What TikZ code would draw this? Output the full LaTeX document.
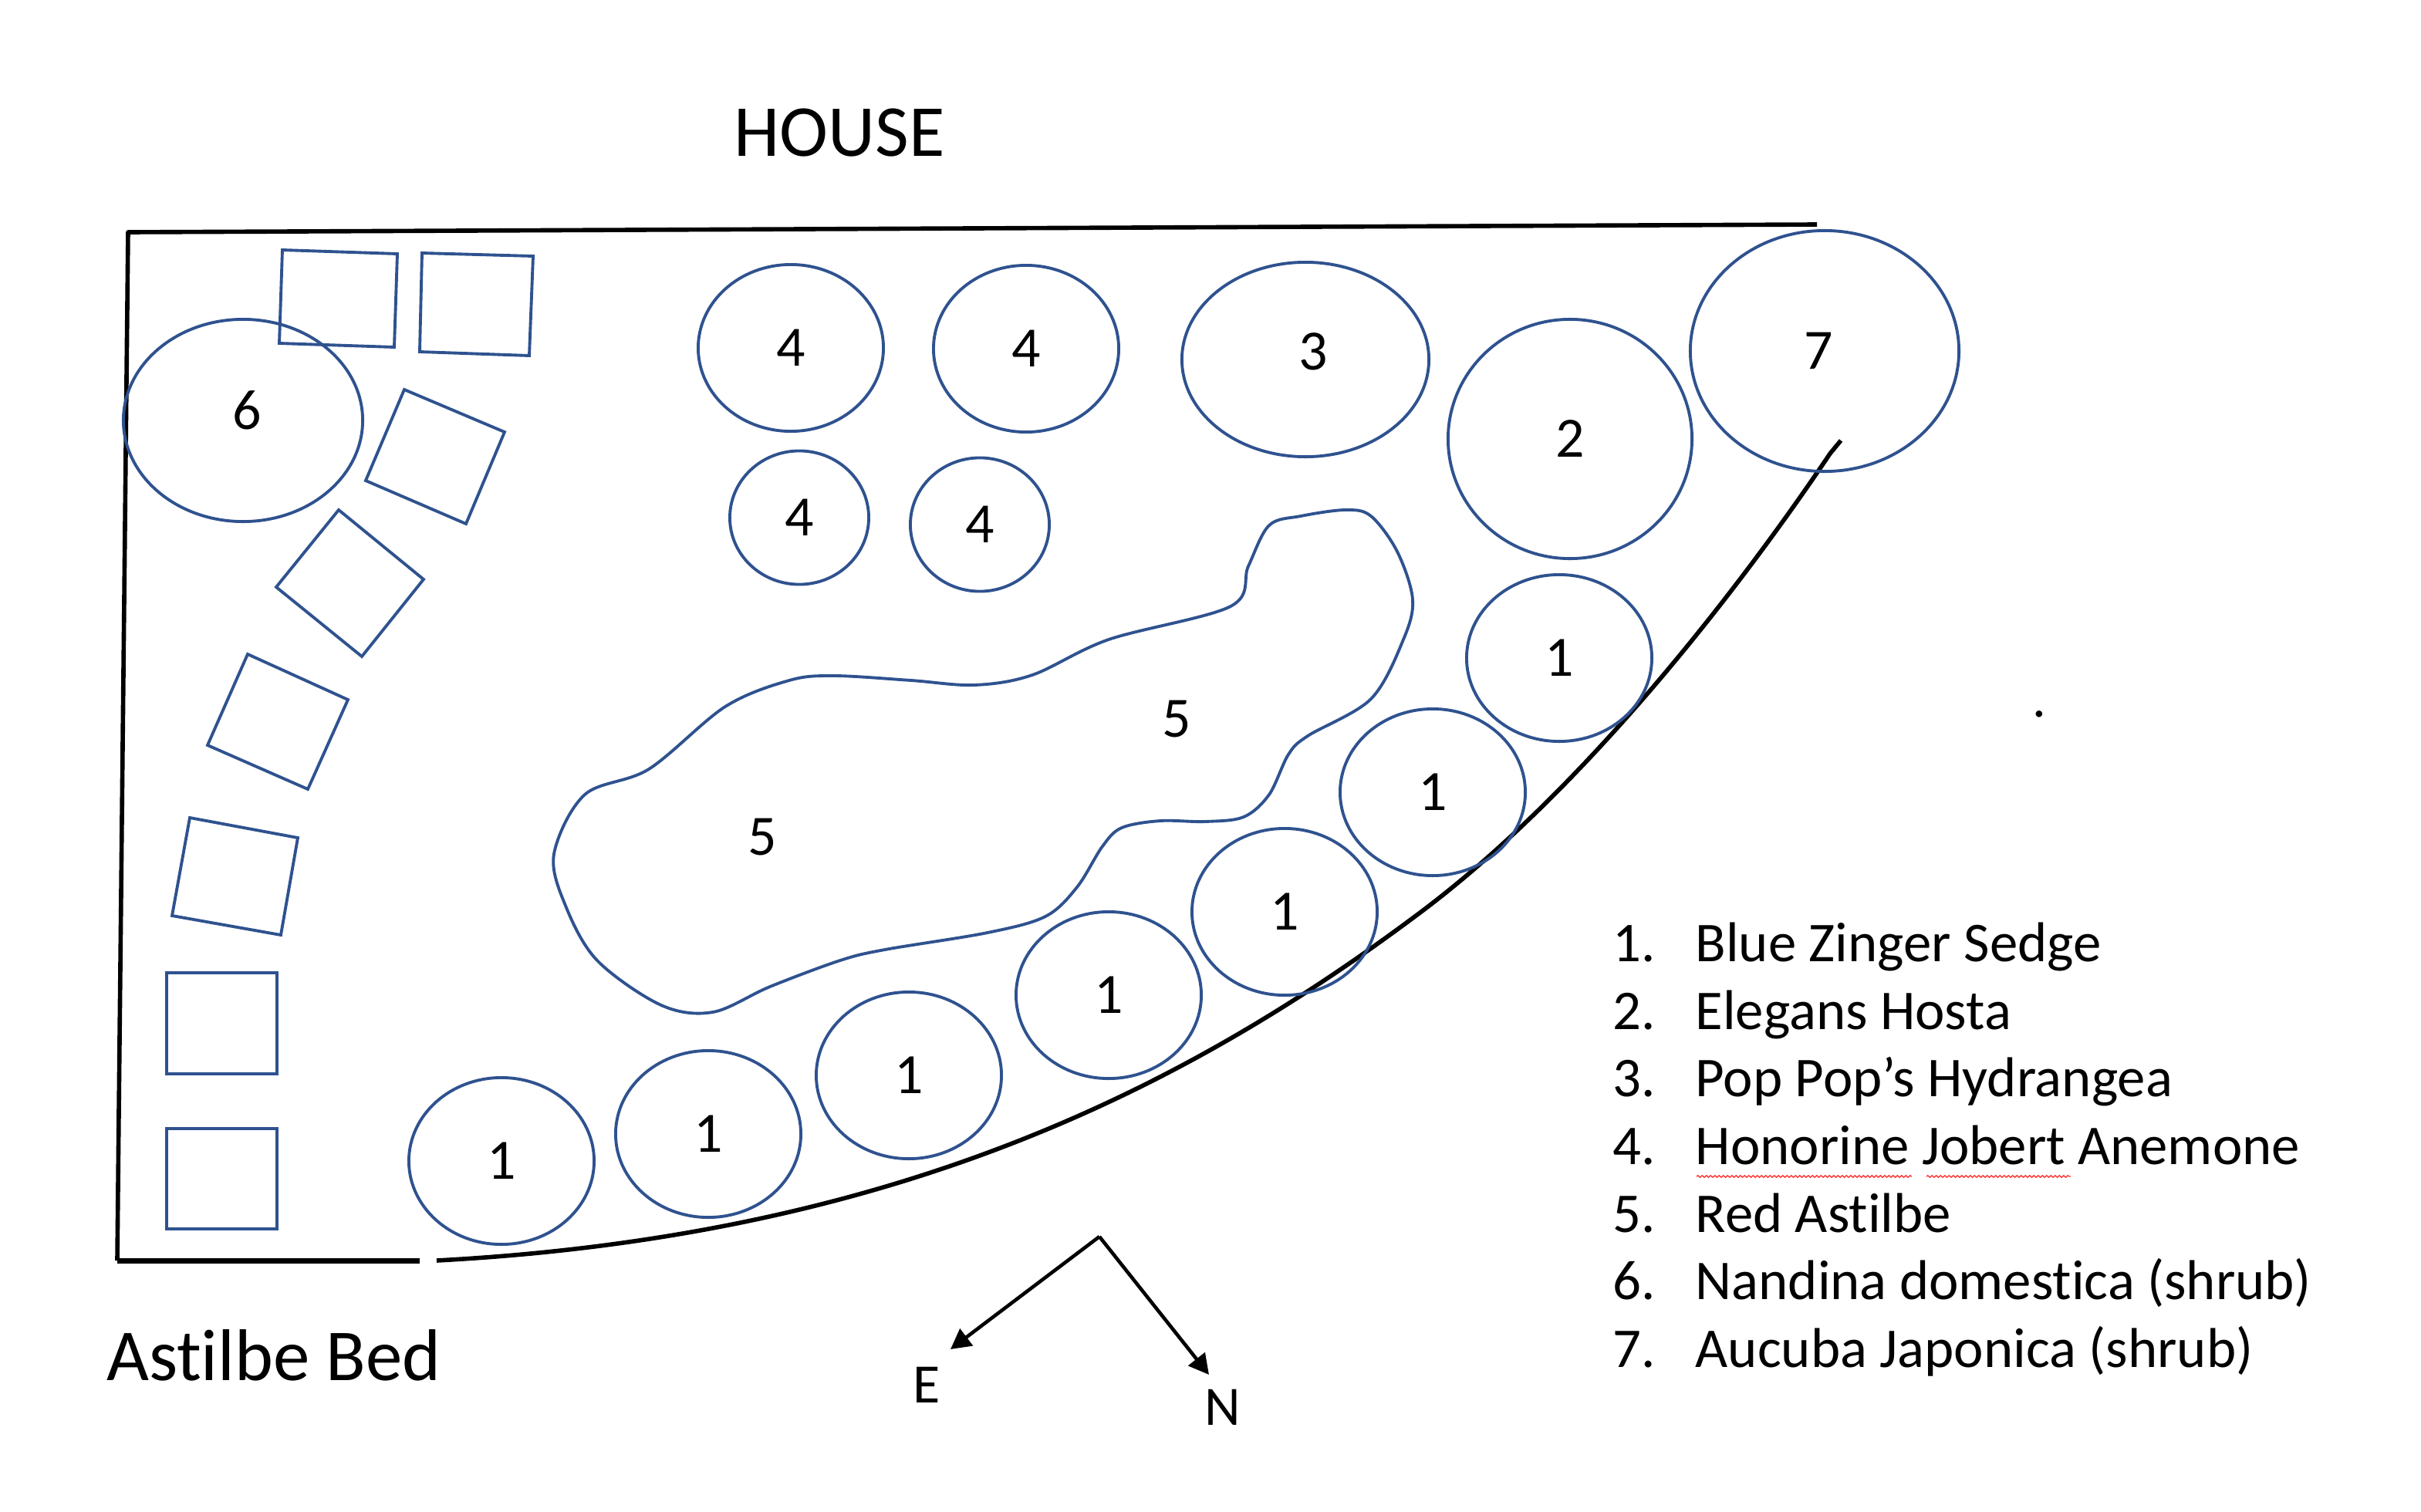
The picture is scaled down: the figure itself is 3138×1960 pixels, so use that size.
\documentclass[tikz,border=0pt]{standalone}
\usepackage{fontspec}
\setmainfont{Carlito}[Ligatures=NoCommon]
\usetikzlibrary{shapes.geometric,arrows.meta,decorations.pathmorphing}
\definecolor{bedblue}{HTML}{2F528F}
\tikzset{
  bedline/.style={line width=1.6pt, line join=round},
  digit/.style={inner sep=0pt, font=\fontsize{21}{21}\selectfont},
  plant/.style={ellipse, draw=bedblue, line width=1.1pt, inner sep=0pt, font=\fontsize{21}{21}\selectfont},
  sedge/.style={plant, minimum width=2.4cm, minimum height=2.16cm},
  anemone/.style={plant, minimum width=2.4cm, minimum height=2.16cm},
  smallanemone/.style={plant, minimum width=1.8cm, minimum height=1.73cm},
  pot/.style={draw=bedblue, line width=1.1pt},
  legend/.style={anchor=base west, inner sep=0pt, font=\fontsize{20.7}{20.7}\selectfont},
  title/.style={anchor=base, inner sep=0pt, font=\fontsize{27}{27}\selectfont},
  compass/.style={line width=1.3pt, -{Triangle[length=0.26cm, width=0.27cm]}},
  spell/.style={red!80!white, line width=0.4pt, decorate, decoration={snake, segment length=0.055cm, amplitude=0.012cm}}
}
\begin{document}
\begin{tikzpicture}[x=0.01cm, y=-0.01cm]
        \useasboundingbox (0,0) rectangle (3138,1960);
        % bed outline
        \draw[bedline] (152,1634) -- (166,301) -- (2355,291);
        \draw[bedline, line width=2pt] (544,1634) -- (152,1634);
        \draw[bedline] (566,1634) .. controls (1166,1602) and (1542,1407) .. (1842,1182)
          .. controls (2092,994) and (2311,679) .. (2372,588) -- (2386,571);
        % pots
        \draw[pot] (366,324) -- (515,329) -- (511,450) -- (362,445) -- cycle;
        \draw[pot] (547,328) -- (691,332) -- (686,461) -- (544,456) -- cycle;
        \draw[pot] (524,505) -- (654,560) -- (604,679) -- (474,623) -- cycle;
        \draw[pot] (439,661) -- (549,751) -- (469,851) -- (358,761) -- cycle;
        \draw[pot] (321,848) -- (451,907) -- (399,1023) -- (269,966) -- cycle;
        \draw[pot] (246,1060) -- (386,1086) -- (364,1212) -- (223,1187) -- cycle;
        \draw[pot] (216,1261) rectangle (359,1392);
        \draw[pot] (216,1463) rectangle (359,1593);
        % astilbe
        \draw[pot] plot[smooth cycle, tension=0.55] coordinates {(718,1107) (758,1030) (841,997) (940,916) (1023,882) (1081,876) (1181,882) (1263,888) (1338,875) (1437,829) (1595,786) (1618,734) (1645,681) (1686,669) (1744,661) (1777,669) (1811,715) (1831,777) (1819,829) (1777,906) (1695,954) (1670,978) (1645,1030) (1612,1059) (1562,1065) (1504,1064) (1454,1073) (1429,1097) (1396,1150) (1355,1188) (1280,1209) (1147,1231) (1089,1245) (998,1279) (924,1312) (857,1303) (774,1245) (733,1174)};
        \node[digit] (r1) at (988,1085) {5};
        \node[digit] (r2) at (1525,932) {5};
        % plants
        \node[plant, minimum width=3.1cm, minimum height=2.62cm, label={[digit, xshift=0.05cm, yshift=0.13cm]center:6}] (nd) at (315,545) {};
        \node[anemone] (a1) at (1025,451) {4};
        \node[anemone] (a2) at (1330,452) {4};
        \node[smallanemone] (a3) at (1036,671) {4};
        \node[smallanemone] (a4) at (1270,680) {4};
        \node[plant, minimum width=3.2cm, minimum height=2.52cm, label={[digit, xshift=0.1cm, yshift=0.1cm]center:3}] (hy) at (1692,466) {};
        \node[plant, minimum width=3.16cm, minimum height=3.1cm] (ho) at (2035,569) {2};
        \node[plant, minimum width=3.48cm, minimum height=3.12cm, label={[digit, xshift=-0.08cm]center:7}] (au) at (2365,455) {};
        \node[sedge] (s1) at (2021,853) {1};
        \node[sedge] (s2) at (1857,1027) {1};
        \node[sedge] (s3) at (1665,1182) {1};
        \node[sedge] (s4) at (1437,1290) {1};
        \node[sedge] (s5) at (1178,1394) {1};
        \node[sedge] (s6) at (918,1470) {1};
        \node[sedge] (s7) at (650,1505) {1};
        % titles
        \node[title] (house) at (1088,202) {HOUSE};
        \node[title] (bed) at (355,1789) {Astilbe Bed};
        \node[inner sep=0pt, font=\fontsize{20}{20}\selectfont] (dot) at (2643,926) {.};
        % compass
        \coordinate (apex) at (1425,1603);
        \coordinate (etip) at (1232,1749);
        \coordinate (ntip) at (1567,1782);
        \draw[compass] (apex) -- (etip);
        \draw[compass] (apex) -- (ntip);
        \node[title, font=\fontsize{20.5}{20.5}\selectfont] (E) at (1201,1818) {E};
        \node[title, font=\fontsize{20.5}{20.5}\selectfont] (N) at (1585,1847) {N};
        % legend
        \node[legend] (n1) at (2090,1246) {1.};
        \node[legend] (t1) at (2197,1246) {Blue Zinger Sedge};
        \node[legend] (n2) at (2090,1334) {2.};
        \node[legend] (t2) at (2197,1334) {Elegans Hosta};
        \node[legend] (n3) at (2090,1421) {3.};
        \node[legend] (t3) at (2197,1421) {Pop Pop’s Hydrangea};
        \node[legend] (n4) at (2090,1509) {4.};
        \node[legend] (t4) at (2197,1509) {Honorine Jobert Anemone};
        \node[legend] (n5) at (2090,1597) {5.};
        \node[legend] (t5) at (2197,1597) {Red Astilbe};
        \node[legend] (n6) at (2090,1684) {6.};
        \node[legend] (t6) at (2197,1684) {Nandina domestica (shrub)};
        \node[legend] (n7) at (2090,1772) {7.};
        \node[legend] (t7) at (2197,1772) {Aucuba Japonica (shrub)};
        \draw[spell] (2199,1525) -- (2478,1525);
        \draw[spell] (2497,1525) -- (2684,1525);
      \end{tikzpicture}
\end{document}
